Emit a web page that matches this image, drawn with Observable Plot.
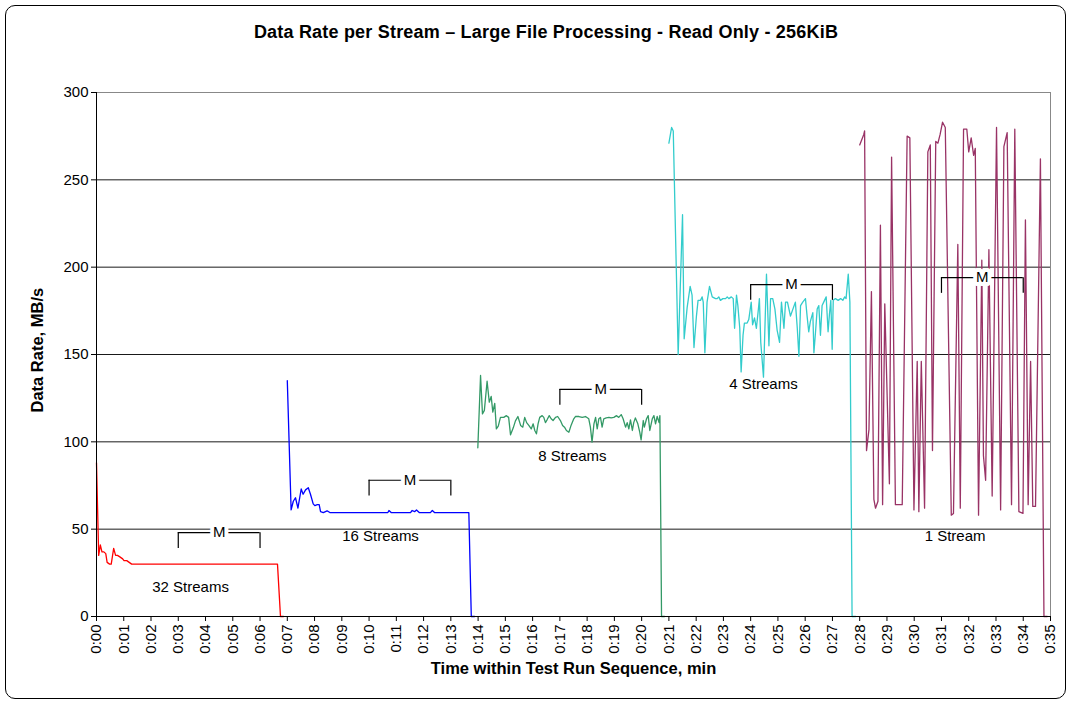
<!DOCTYPE html>
<html>
<head>
<meta charset="utf-8">
<script src="https://cdn.jsdelivr.net/npm/d3@7"></script>
<script src="https://cdn.jsdelivr.net/npm/@observablehq/plot@0.6"></script>
<style>
  html, body { margin: 0; padding: 0; background: #fff; }
  #wrap { position: relative; width: 1071px; height: 706px; font-family: "Liberation Sans", Arial, sans-serif; }
  #border { position: absolute; left: 5px; top: 5px; width: 1061px; height: 694px; border: 1px solid #000; border-radius: 10px; box-sizing: border-box; }
  #title { position: absolute; top: 22px; left: 546px; transform: translateX(-50%); white-space: nowrap; font-weight: bold; font-size: 18px; letter-spacing: 0.2px; color: #000; }
  #chart { position: absolute; left: 0; top: 80px; }
</style>
</head>
<body>
<div id="wrap">
  <div id="border"></div>
  <div id="title">Data Rate per Stream – Large File Processing - Read Only - 256KiB</div>
  <div id="chart"></div>
</div>
<script>
// ---- Data (time in minutes, data rate in MB/s) ----
const xTickLabels = ["0:00","0:01","0:02","0:03","0:04","0:05","0:06","0:07","0:08","0:09","0:10","0:11","0:12","0:13","0:14","0:15","0:16","0:17","0:18","0:19","0:20","0:21","0:22","0:23","0:24","0:25","0:26","0:27","0:28","0:29","0:30","0:31","0:32","0:33","0:34","0:35"];
const yTicks = [0, 50, 100, 150, 200, 250, 300];

const t32 = [0.00,0.08,0.14,0.20,0.27,0.34,0.39,0.48,0.54,0.63,0.70,0.77,0.87,0.96,1.01,1.11,1.20,1.29,6.64,6.75,6.86];
const v32 = [88,35,41,37,37,36,31,30,30,39,35,35,34,33,32,32,31,30,30,0,0];

const t16 = [7.00,7.14,7.22,7.30,7.39,7.51,7.58,7.67,7.77,7.85,7.95,8.01,8.10,8.17,8.22,8.32,8.46,8.56,10.69,10.73,10.81,11.52,11.58,11.67,11.74,11.84,12.25,12.32,12.40,13.66,13.75,13.87];
const v16 = [135,61,66,68,62,73,70,72.5,73.7,70,64.5,63.5,64,64,60,59.5,60.5,59.5,59.5,60.7,59.5,59.5,60.7,60,61,59.5,59.5,60.7,59.5,59.5,0,0];

const t8 = [13.99,14.09,14.16,14.23,14.33,14.41,14.48,14.54,14.61,14.67,14.74,14.82,14.94,15.04,15.12,15.19,15.29,15.37,15.46,15.56,15.64,15.71,15.78,15.86,15.95,16.02,16.08,16.14,16.20,16.26,16.35,16.41,16.47,16.53,16.61,16.68,16.75,16.84,16.92,17.02,17.10,17.17,17.24,17.33,17.41,17.51,17.57,17.70,17.82,17.94,18.06,18.12,18.18,18.25,18.31,18.37,18.43,18.49,18.55,18.61,18.70,18.80,18.88,18.98,19.08,19.16,19.25,19.32,19.41,19.47,19.53,19.59,19.66,19.71,19.77,19.86,19.93,19.98,20.06,20.10,20.18,20.24,20.30,20.39,20.45,20.51,20.57,20.64,20.67,20.73,20.84];
const v8 = [96.6,138,116,118,134.7,122.7,126,117,122,107.4,109,114,114,115,114,104,108,112,114.5,109.4,108.4,114,111,109.4,107.4,110.3,106.5,104.6,110.3,114,115,114,111,112.6,115,113.2,112.2,114,114.5,112.2,109.4,108.4,106.5,105.5,109.4,113.2,114.5,114.5,114,114.5,113.2,108.4,99.8,110.3,114,107.4,113.2,114,108.4,113.2,113.7,114,113.7,114,115,114,115.6,113.2,108.4,111,107.4,112.6,106.5,111,113.7,110.3,105.5,101.1,112.2,108.4,113.2,115,106.5,113.2,115,110.3,114.5,111,115,0,0];

const t4 = [21.00,21.10,21.16,21.34,21.50,21.56,21.67,21.78,21.85,21.92,22.01,22.07,22.16,22.22,22.26,22.32,22.40,22.49,22.59,22.71,22.77,22.83,22.89,22.98,23.08,23.14,23.20,23.29,23.36,23.41,23.48,23.53,23.60,23.65,23.72,23.77,23.87,23.93,24.02,24.07,24.14,24.21,24.29,24.32,24.37,24.47,24.58,24.67,24.73,24.81,24.89,24.97,25.06,25.13,25.22,25.28,25.35,25.46,25.64,25.71,25.77,25.83,25.91,26.01,26.07,26.13,26.19,26.28,26.32,26.38,26.44,26.50,26.56,26.62,26.68,26.77,26.84,26.89,26.94,26.99,27.03,27.11,27.21,27.30,27.38,27.45,27.50,27.58,27.64,27.72,27.85];
const v4 = [271,280,278,150,230,159,177,189,184,154,172,181,181,183,180,151,180,189,183,182,182,183,181,182,182,183,182,183,182,165,184,178,165,140,161,168,168,170,180,167,171,165,177,182,157,137,196,155,182,182,176,164,157,180,165,180,180,172,180,165,149,178,180,182,172,163,169,174,151,163,176,178,161,178,180,183,163,173,181,153,181,182,181,182,181,183,182,196,180,0,0];

const t1 = [28.00,28.15,28.18,28.25,28.34,28.43,28.52,28.58,28.67,28.76,28.84,28.92,29.09,29.17,29.31,29.44,29.56,29.74,29.84,29.99,30.11,30.17,30.26,30.38,30.50,30.59,30.67,30.79,30.87,30.95,31.04,31.14,31.36,31.44,31.60,31.69,31.81,31.93,32.00,32.09,32.18,32.24,32.36,32.48,32.54,32.62,32.74,32.86,33.02,33.17,33.29,33.41,33.57,33.69,33.84,33.99,34.08,34.18,34.27,34.35,34.45,34.63,34.76,34.88];
const v1 = [270,276,278,95,107,186,67,62,66,224,64,179,76,263,64,64,64,275,274,61,146,60,146,62,266,270,95,272,271,276,283,280,58,59,213,62,279,279,266,274,264,268,58,204,92,78,210,69,280,61,269,277,64,279,60,59,227,64,146,63,63,262,0,0];

const seriesNames = ["32 Streams", "16 Streams", "8 Streams", "4 Streams", "1 Stream"];
const seriesColors = ["#ff0000", "#0000ff", "#339966", "#33cccc", "#993366"];
const seriesTimes = [t32, t16, t8, t4, t1];
const seriesValues = [v32, v16, v8, v4, v1];
const labelTime = [3.45, 10.42, 17.46, 24.47, 31.5];
const labelValue = [17, 46, 92, 133, 46];

const mStart = [3, 10, 17, 24, 31];
const mEnd = [6, 13, 20, 27, 34];
const mLevel = [48, 78, 130, 190, 194];
const mDepth = 9;

// ---- Build tables ----
const lines = seriesNames.map((name, i) =>
  seriesTimes[i].map((t, j) => ({series: name, t, v: seriesValues[i][j]})));
const labels = seriesNames.map((name, i) => ({name, t: labelTime[i], v: labelValue[i]}));
const brackets = mStart.map((s, i) => ({s, e: mEnd[i], lvl: mLevel[i], mid: (s + mEnd[i]) / 2}));
const xTickVals = xTickLabels.map((_, i) => i);

const chart = Plot.plot({
  width: 1071,
  height: 626,
  marginLeft: 96,
  marginRight: 21,
  marginTop: 12,
  marginBottom: 90,
  style: {fontFamily: '"Liberation Sans", Arial, sans-serif', fontSize: "15px", color: "#000", background: "transparent", overflow: "visible"},
  x: {domain: [0, 35]},
  y: {domain: [0, 300]},
  marks: [
    Plot.gridY(yTicks.filter(d => d > 0 && d < 300), {stroke: "#000", strokeOpacity: 0.9}),
    Plot.frame({stroke: "#888"}),
    ...lines.map((data, i) => Plot.line(data, {x: "t", y: "v", stroke: seriesColors[i], strokeWidth: 1.3})),
    Plot.ruleX([0], {stroke: "#000"}),
    Plot.ruleY([0], {stroke: "#000"}),
    Plot.axisY({ticks: yTicks, tickSize: 5, tickPadding: 3, label: null, fontSize: 15}),
    Plot.axisX({ticks: xTickVals, tickFormat: d => xTickLabels[d], tickRotate: -90, tickSize: 5, tickPadding: 3, label: null, fontSize: 15}),
    Plot.ruleY(brackets, {y: "lvl", x1: "s", x2: "e", stroke: "#000", strokeWidth: 1.2}),
    Plot.ruleX(brackets, {x: "s", y1: d => d.lvl - mDepth, y2: "lvl", stroke: "#000", strokeWidth: 1.2}),
    Plot.ruleX(brackets, {x: "e", y1: d => d.lvl - mDepth, y2: "lvl", stroke: "#000", strokeWidth: 1.2}),
    Plot.text(brackets, {x: "mid", y: "lvl", text: () => "M", fontSize: 15, fill: "#000", stroke: "#fff", strokeWidth: 8}),
    Plot.text(labels, {x: "t", y: "v", text: "name", fontSize: 15, fill: "#000"}),
    Plot.text(["Time within Test Run Sequence, min"], {frameAnchor: "bottom", dy: 57, text: d => d, fontSize: 16.5, fontWeight: "bold", fill: "#000"}),
    Plot.text(["Data Rate, MB/s"], {frameAnchor: "left", dx: -59, dy: 58, rotate: -90, textAnchor: "start", text: d => d, fontSize: 16.5, fontWeight: "bold", fill: "#000"})
  ]
});
document.getElementById("chart").appendChild(chart);
</script>
</body>
</html>
